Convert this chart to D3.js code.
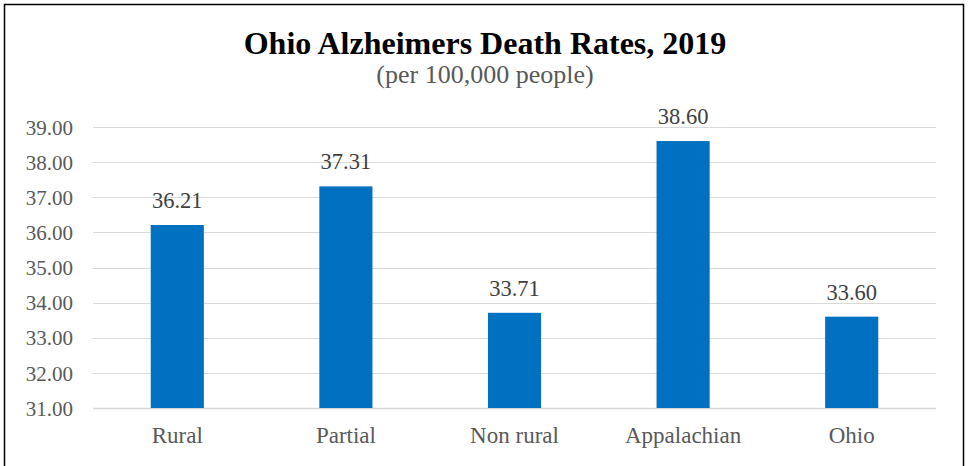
<!DOCTYPE html>
<html><head><meta charset="utf-8">
<script src="https://cdn.jsdelivr.net/npm/d3@7"></script>
<style>body{margin:0;background:#fff}svg{display:block}
svg text{font-family:"Liberation Serif","Times New Roman","DejaVu Serif",serif}</style>
</head><body>
<svg id="c" width="968" height="466"></svg>
<script>
const categories = ["Rural","Partial","Non rural","Appalachian","Ohio"];
const values = [36.21, 37.31, 33.71, 38.60, 33.60];
const yTicks = [31,32,33,34,35,36,37,38,39];
const title = "Ohio Alzheimers Death Rates, 2019";
const subtitle = "(per 100,000 people)";

const svg = d3.select("#c");
svg.append("rect").attr("x",4.5).attr("y",4.5).attr("width",959).attr("height",480)
  .attr("fill","#fff").attr("stroke","#000").attr("stroke-width",1.5);

const x = d3.scaleBand().domain(categories).range([93,936]).paddingInner(0).paddingOuter(0);
const y = d3.scaleLinear().domain([31,39]).range([408,127]);
const barW = x.bandwidth()*0.315;

const g = svg.append("g");
g.selectAll("line.grid").data(yTicks).join("line")
  .attr("x1",93).attr("x2",936).attr("y1",d=>Math.round(y(d))+0.5).attr("y2",d=>Math.round(y(d))+0.5)
  .attr("stroke","#d9d9d9").attr("stroke-width",d=>d===31?1.5:1.2);

const yAxis = d3.axisLeft(y).tickValues(yTicks).tickFormat(d3.format(".2f")).tickSize(0).tickPadding(0);
const ya = svg.append("g").attr("transform","translate(73,0)").call(yAxis).attr("font-family",null);
ya.select(".domain").remove();
ya.selectAll("text").attr("font-size",21).attr("fill","#595959").attr("dy","0.34em");

g.selectAll("rect.bar").data(values).join("rect")
  .attr("x",(d,i)=>x(categories[i])+x.bandwidth()/2-barW/2)
  .attr("width",barW)
  .attr("y",d=>y(d)).attr("height",d=>y(31)-y(d)).attr("fill","#0070C0");

g.selectAll("text.lbl").data(values).join("text")
  .attr("x",(d,i)=>x(categories[i])+x.bandwidth()/2).attr("y",d=>y(d)-17)
  .attr("text-anchor","middle").attr("font-size",22.5).attr("fill","#404040")
  .text(d=>d3.format(".2f")(d));

const xAxis = d3.axisBottom(x).tickSize(0).tickPadding(0);
const xa = svg.append("g").attr("transform","translate(0,408)").call(xAxis).attr("font-family",null);
xa.select(".domain").remove();
xa.selectAll("text").attr("font-size",23).attr("fill","#595959").attr("dy",null).attr("y",35);

svg.append("text").attr("x",485).attr("y",54).attr("text-anchor","middle")
  .attr("font-weight","bold").attr("font-size",32).attr("fill","#000").text(title);
svg.append("text").attr("x",485).attr("y",83).attr("text-anchor","middle")
  .attr("font-size",26).attr("fill","#595959").text(subtitle);
</script>
</body></html>
